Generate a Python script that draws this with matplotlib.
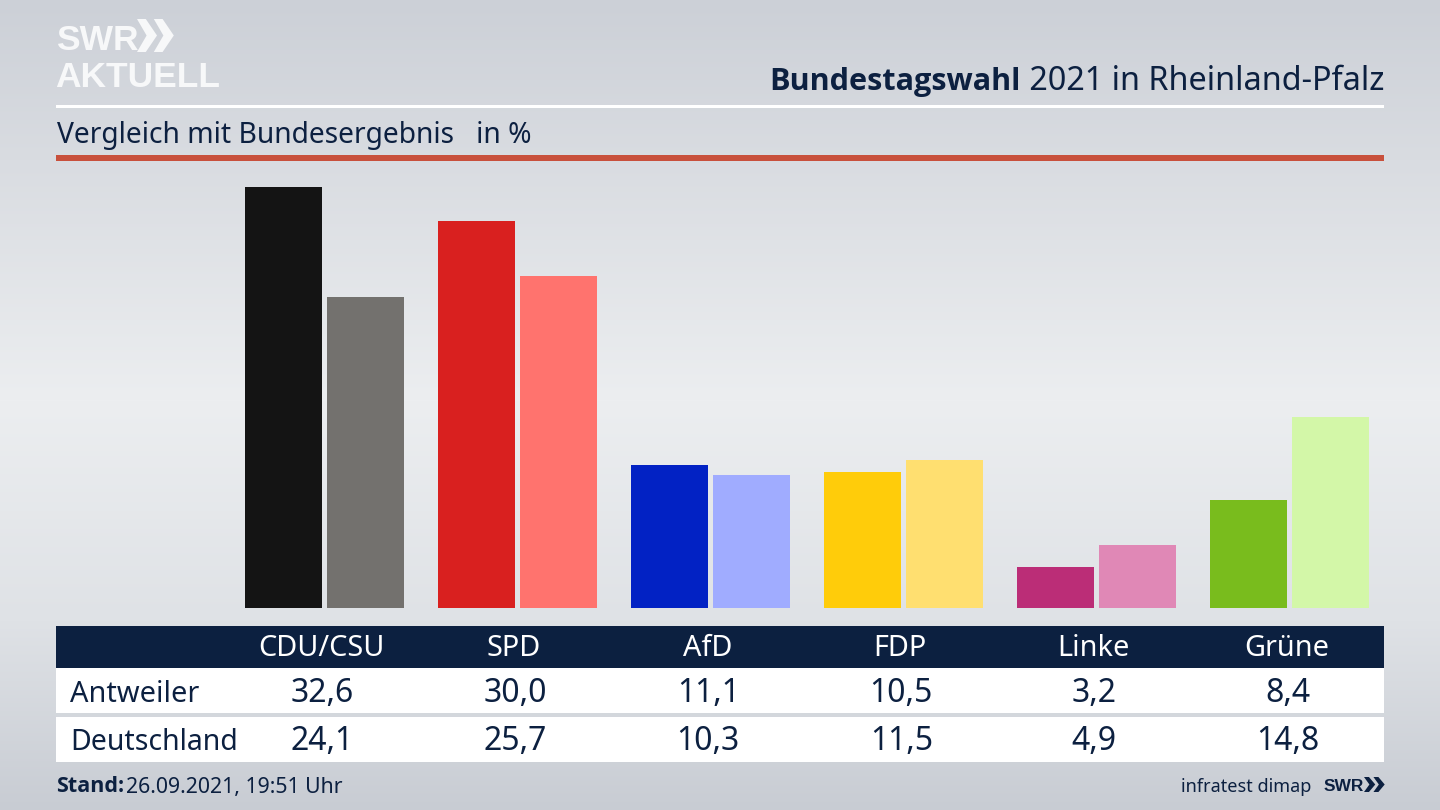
#!/usr/bin/env python3
# -*- coding: utf-8 -*-
import matplotlib
matplotlib.use('Agg')
import matplotlib.pyplot as plt
import matplotlib.patches as patches
import numpy as np

PARTIES = ['CDU/CSU', 'SPD', 'AfD', 'FDP', 'Linke', 'Grüne']
ANTWEILER = [32.6, 30.0, 11.1, 10.5, 3.2, 8.4]
DEUTSCHLAND = [24.1, 25.7, 10.3, 11.5, 4.9, 14.8]
ANTWEILER_LABELS = ['32,6', '30,0', '11,1', '10,5', '3,2', '8,4']
DEUTSCHLAND_LABELS = ['24,1', '25,7', '10,3', '11,5', '4,9', '14,8']
COLORS_DARK = ['#141414', '#d9201f', '#0222c4', '#ffcc0a', '#bb2d77', '#79bc1d']
COLORS_LIGHT = ['#73716e', '#ff736e', '#a0acff', '#ffdf70', '#e088b6', '#d3f7a8']

NAVY = '#0c2040'
W, H = 1440, 810
PX_PER_PCT = 12.91
GROUP_STEP = 193.1
FIRST_CENTER = 324.3
BAR_W = 77 / GROUP_STEP
BAR_OFF = 41 / GROUP_STEP
BOLD_FONT = ['Open Sans', 'DejaVu Sans']
LOGO_FONT = ['Liberation Sans']

plt.rcParams['font.family'] = ['Noto Sans', 'DejaVu Sans']

fig = plt.figure(figsize=(W / 100, H / 100), dpi=100)

# Pixel-Koordinaten fuer Hintergrund, Linien, Tabelle
bg = fig.add_axes([0, 0, 1, 1])
bg.set_xlim(0, W)
bg.set_ylim(H, 0)
bg.axis('off')

stops_y = [0, 160, 400, 620, 810]
stops_c = [[0xcc, 0xd0, 0xd7], [0xd9, 0xdc, 0xe1], [0xec, 0xee, 0xf0], [0xdf, 0xe2, 0xe6], [0xc8, 0xcc, 0xd3]]
yy = np.arange(H)
grad = np.stack([np.interp(yy, stops_y, [c[i] for c in stops_c]) for i in range(3)], axis=1) / 255
bg.imshow(grad[:, None, :], extent=[0, W, H, 0], aspect='auto', zorder=0)


def band(ax, x0, x1, y0, y1, color):
    ax.add_patch(patches.Rectangle((x0, y0), x1 - x0, y1 - y0, facecolor=color, edgecolor='none', zorder=1))


def chevrons(ax, x, y0, y1, color, w):
    # Doppelpfeil vom SWR-Logo
    mid = (y0 + y1) / 2
    for dx in (0, w * 1.05):
        pts = [(x + dx, y0), (x + dx + w * 0.55, y0), (x + dx + w * 1.25, mid),
               (x + dx + w * 0.55, y1), (x + dx, y1), (x + dx + w * 0.6, mid)]
        ax.add_patch(patches.Polygon(pts, closed=True, facecolor=color, edgecolor='none', zorder=2))


# Kopf
band(bg, 56, 1384, 104.5, 107.5, 'white')
band(bg, 56, 1384, 155, 160.5, '#c8503c')
bg.text(56, 50, 'SWR', color='#f7f8f9', fontsize=25.5, fontweight='bold', family=LOGO_FONT, va='baseline', ha='left')
chevrons(bg, 137, 19, 52, '#f7f8f9', 16)
bg.text(55, 87, 'AKTUELL', color='#f7f8f9', fontsize=25.5, fontweight='bold', family=LOGO_FONT, va='baseline', ha='left')

t = bg.text(1384, 82, ' 2021 in Rheinland-Pfalz', color=NAVY, fontsize=23.3, va='center', ha='right')
fig.canvas.draw()
bb = t.get_window_extent()
bg.text(bb.x0, 82, 'Bundestagswahl', color=NAVY, fontsize=22.1, fontweight='bold', family=BOLD_FONT, va='center', ha='right')
bg.text(57, 135, 'Vergleich mit Bundesergebnis   in %', color=NAVY, fontsize=20.3, va='center', ha='left')

# Balken
ax = fig.add_axes([56 / W, 1 - 608 / H, (1384 - 56) / W, (608 - 160) / H])
ax.patch.set_alpha(0)
ax.set_xlim((56 - FIRST_CENTER) / GROUP_STEP, (1384 - FIRST_CENTER) / GROUP_STEP)
ax.set_ylim(0, (608 - 160) / PX_PER_PCT)
ax.axis('off')
x = np.arange(len(PARTIES))
ax.bar(x - BAR_OFF, ANTWEILER, BAR_W, color=COLORS_DARK)
ax.bar(x + BAR_OFF, DEUTSCHLAND, BAR_W, color=COLORS_LIGHT)

# Tabelle
band(bg, 56, 1384, 626, 668, NAVY)
band(bg, 56, 1384, 668, 713, 'white')
band(bg, 56, 1384, 717, 762, 'white')
COL_X = [321 + GROUP_STEP * i for i in range(6)]
for cx, name, a, d in zip(COL_X, PARTIES, ANTWEILER_LABELS, DEUTSCHLAND_LABELS):
    bg.text(cx, 648, name, color='white', fontsize=20.8, va='center', ha='center')
    bg.text(cx + 1, 694, a, color=NAVY, fontsize=23, va='center', ha='center')
    bg.text(cx + 1, 742, d, color=NAVY, fontsize=23, va='center', ha='center')
bg.text(70, 694, 'Antweiler', color=NAVY, fontsize=20.8, va='center', ha='left')
bg.text(70, 742, 'Deutschland', color=NAVY, fontsize=20.5, va='center', ha='left')

# Fuss
s = bg.text(56, 787, 'Stand:', color=NAVY, fontsize=15.5, fontweight='bold', family=BOLD_FONT, va='center', ha='left')
fig.canvas.draw()
bg.text(s.get_window_extent().x1 + 2, 788, '26.09.2021, 19:51 Uhr', color=NAVY, fontsize=15.3, va='center', ha='left')
bg.text(1311, 787, 'infratest dimap', color=NAVY, fontsize=13, va='center', ha='right')
bg.text(1324, 791, 'SWR', color=NAVY, fontsize=12.5, fontweight='bold', family=LOGO_FONT, va='baseline', ha='left')
chevrons(bg, 1364, 777, 792, NAVY, 9)

fig.savefig('out.png', dpi=100)
